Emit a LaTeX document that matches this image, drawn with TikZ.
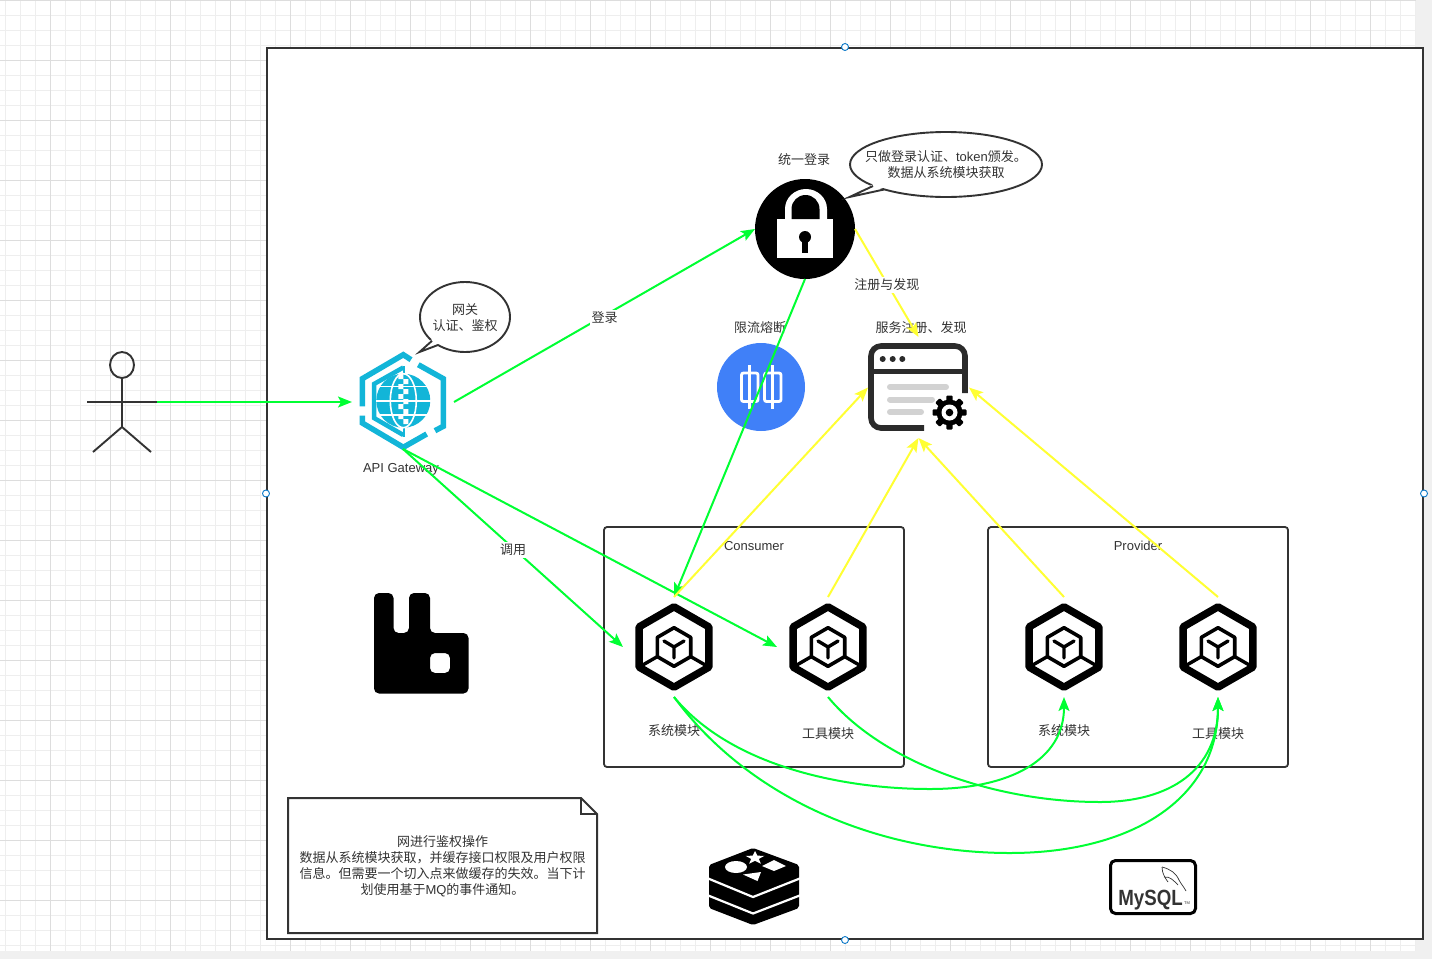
\documentclass[tikz,border=0pt]{standalone}
\usepackage{fontspec}
\setmainfont{Liberation Sans}
\newfontfamily\cjk{Noto Sans CJK SC}
\newfontfamily\lat{Liberation Sans}
\usetikzlibrary{arrows.meta,shapes.geometric}
\definecolor{ink}{HTML}{333333}
\definecolor{gridminor}{HTML}{EEEEEE}
\definecolor{gridmajor}{HTML}{DDDDDD}
\definecolor{pagebg}{HTML}{F0F0F0}
\definecolor{grn}{HTML}{00FF33}
\definecolor{ylw}{HTML}{FFFF33}
\definecolor{cyanicon}{HTML}{12B5D8}
\definecolor{blueicon}{HTML}{4080F8}
\definecolor{handle}{HTML}{0A78C8}
\definecolor{barg}{HTML}{D2D2D2}
\tikzset{
  txt/.style={text=ink,inner sep=0pt,font=\cjk\fontsize{13}{16}\selectfont,align=center},
  anchorbox/.style={inner sep=0pt,outer sep=0pt,minimum width=#1},
  modbox/.style={inner sep=0pt,outer sep=0pt,minimum width=102pt,minimum height=100pt},
  frame/.style={draw=ink,line width=2pt,line join=miter},
  gline/.style={draw=grn,line width=2pt,-{Stealth[length=14pt,width=11pt,inset=3pt]}},
  yline/.style={draw=ylw,line width=2pt,-{Stealth[length=14pt,width=11pt,inset=3pt]}},
  lbl/.style={txt,fill=white,inner xsep=1.5pt,inner ysep=2pt,yshift=-2pt},
  hnd/.style={circle,draw=handle,fill=white,line width=0.9pt,minimum size=7pt,inner sep=0pt},
  modpic/.pic={
    \draw[black,line width=7.4pt,line join=round]
      (0,-40.2)--(34.9,-20.1)--(34.9,20.1)--(0,40.2)--(-34.9,20.1)--(-34.9,-20.1)--cycle;
    \draw[black,line width=3.6pt,line join=round]
      (0,-19.3)--(16.7,-9.6)--(16.7,9.6)--(0,19.3)--(-16.7,9.6)--(-16.7,-9.6)--cycle;
    \draw[black,line width=3.4pt] (-16.7,9.6)--(-34.9,20.1) (16.7,9.6)--(34.9,20.1);
    \draw[black,line width=3.4pt,line cap=round] (0,0)--(-10,-6) (0,0)--(10,-6) (0,0)--(0,11);
  }
}
\begin{document}
\begin{tikzpicture}[x=1pt,y=-1pt]
\useasboundingbox (0,0) rectangle (1432,959);
\fill[pagebg] (0,0) rectangle (1432,959);
\fill[white] (0,0) rectangle (1415.5,951);
% grid
\foreach \k in {0,...,94} {\pgfmathsetmacro{\xx}{5+15*\k}\draw[gridminor,line width=1pt] (\xx,0)--(\xx,951);}
\foreach \k in {0,...,63} {\pgfmathsetmacro{\yy}{15*\k}\draw[gridminor,line width=1pt] (0,\yy)--(1415.5,\yy);}
\foreach \k in {0,...,22} {\pgfmathsetmacro{\xx}{50+60*\k}\draw[gridmajor,line width=1pt] (\xx,0)--(\xx,951);}
\foreach \k in {0,...,15} {\pgfmathsetmacro{\yy}{60*\k}\draw[gridmajor,line width=1pt] (0,\yy)--(1415.5,\yy);}
% main frame
\node[frame,fill=white,inner sep=0pt,minimum width=1156pt,minimum height=891pt] (main) at (845,493.5) {};
% boxes
\node[draw=ink,line width=1.8pt,rounded corners=3pt,minimum width=300pt,minimum height=240pt,inner sep=0pt] (consumer) at (754,647) {};
\node[draw=ink,line width=1.8pt,rounded corners=3pt,minimum width=300pt,minimum height=240pt,inner sep=0pt] (provider) at (1138,647) {};
% note
\draw[frame] (288,798)--(581,798)--(597,814)--(597,933)--(288,933)--cycle;
\draw[frame] (581,798)--(581,814)--(597,814);
\node[txt,text width=290pt] (notetext) at (442.5,866.5) {网进行鉴权操作\\数据从系统模块获取，并缓存接口权限及用户权限\\信息。但需要一个切入点来做缓存的失效。当下计\\划使用基于{\lat MQ}的事件通知。};
% user
\node[anchorbox=70pt,minimum height=102pt] (user) at (122,402) {};
\draw[ink,line width=1.9pt] (122,365) ellipse [x radius=12,y radius=13];
\draw[ink,line width=1.9pt] (87,402)--(157,402) (122,378)--(122,427) (93,452)--(122,427)--(151,452);
% gateway icon
\node[anchorbox=102pt,minimum height=94pt] (gw) at (403,402) {};
\begin{scope}[cyanicon]
\draw[line width=5.5pt,line join=miter] (362.3,406.3)--(362.3,378.7)--(403.3,354.7)--(411,359.7);
\draw[line width=5.5pt,line join=miter] (418.3,364.7)--(443.3,378.7)--(443.3,426.3)--(435,430.7);
\draw[line width=5.5pt,line join=miter] (426.7,434)--(403.3,447.3)--(362.3,423)--(362.3,415.7);
\draw[line width=4.5pt,line join=miter] (403.3,367.5)--(374,384)--(374,418)--(403.3,435);
\fill (403.3,365.5) rectangle (404.5,437);
\fill (403.3,400.7) circle [radius=27];
\draw[white,line width=1.6pt] (403.3,400.7) ellipse [x radius=13,y radius=27];
\draw[white,line width=1.6pt] (376,400.7)--(431,400.7) (380,386.5)--(427,386.5) (380,415)--(427,415);
\fill[white] (398.3,374) rectangle (403.3,379) (403.3,379) rectangle (408.3,384)
  (398.3,384) rectangle (403.3,389) (403.3,389) rectangle (408.3,394)
  (398.3,394) rectangle (403.3,399) (403.3,399) rectangle (408.3,404)
  (398.3,404) rectangle (403.3,409) (403.3,409) rectangle (408.3,414)
  (398.3,414) rectangle (403.3,419) (403.3,419) rectangle (408.3,424);
\end{scope}
\node[txt] (gwlabel) at (401,469.5) {\lat API Gateway};
% gateway bubble
\draw[ink,line width=1.9pt,fill=white] (465,317) ellipse [x radius=45,y radius=35];
\fill[white] (419.5,352)--(432.5,338.5)--(439.5,343.5)--cycle;
\draw[ink,line width=1.9pt,line join=miter] (432,340.8)--(419.5,352)--(438,345);
\node[txt] (gwbubble) at (465,317.5) {网关\\认证、鉴权};
% lock
\node[circle,fill=black,minimum size=100pt,inner sep=0pt,outer sep=0pt] (lock) at (805,229) {};
\fill[white] (777,219) rectangle (833,258);
\fill[white] (785,221) -- (785,209) arc [start angle=180,end angle=360,x radius=21,y radius=20] -- (827,221) -- cycle;
\fill[black] (791.5,219) -- (791.5,209) arc [start angle=180,end angle=360,x radius=14,y radius=14] -- (819.5,219) -- cycle;
\fill[black] (805,237) circle [radius=6];
\fill[black] (802,238) rectangle (808,252.5);
\node[txt] (locklabel) at (804,160) {统一登录};
% lock bubble
\draw[ink,line width=1.9pt,fill=white] (946,164.5) ellipse [x radius=96,y radius=32.5];
\fill[white] (849.5,197)--(873.5,184)--(885,187.5)--cycle;
\draw[ink,line width=1.9pt,line join=miter] (873,186)--(849.5,197)--(884,189.5);
\node[txt] (lockbubble) at (946,165) {只做登录认证、{\lat token}颁发。\\数据从系统模块获取};
% breaker
\node[circle,fill=blueicon,minimum size=88pt,inner sep=0pt,outer sep=0pt] (breaker) at (761,387) {};
\draw[white,line width=2.8pt,rounded corners=2pt] (741.5,373) rectangle (758,401.5) (764.5,373) rectangle (781,401.5);
\draw[white,line width=3.2pt] (749.5,365)--(749.5,409) (772.5,365)--(772.5,409);
\node[txt] (breakerlabel) at (760,328) {限流熔断};
% registry
\node[anchorbox=101pt,minimum height=101pt] (reg) at (918.5,387.5) {};
\draw[ink!85!black,line width=5.6pt,line join=round] (965,393)--(965,356) arc [start angle=0,end angle=-90,radius=10] -- (881,346) arc [start angle=-90,end angle=-180,radius=10] -- (871,418) arc [start angle=180,end angle=90,radius=10] -- (924,428);
\draw[ink!85!black,line width=5pt] (871,371)--(965,371);
\fill[ink!85!black] (882.7,359) circle [radius=3] (892.7,359) circle [radius=3] (902.3,359) circle [radius=3];
\draw[barg,line width=6pt,line cap=round] (890,387)--(946,387) (890,399.5)--(932,399.5) (890,412)--(921,412);
\fill[black] (949.5,412.5) circle [radius=13];
\foreach \a in {0,45,...,315} {\fill[black,rotate around={\a:(949.5,412.5)},rounded corners=1pt] (946.3,395.5) rectangle (952.7,405);}
\fill[white] (949.5,412.5) circle [radius=8];
\fill[black] (949.5,412.5) circle [radius=3.8];
\node[txt] (reglabel) at (921,328) {服务注册、发现};
% modules
\node[modbox] (sysa) at (674,647) {};
\node[modbox] (toola) at (828,647) {};
\node[modbox] (sysb) at (1064,647) {};
\node[modbox] (toolb) at (1218,647) {};
\pic at (sysa.center) {modpic};
\pic at (toola.center) {modpic};
\pic at (sysb.center) {modpic};
\pic at (toolb.center) {modpic};
\node[txt] (consumerlabel) at (754,546) {\lat Consumer};
\node[txt] (providerlabel) at (1138,546) {\lat Provider};
\node[txt] (sysalabel) at (674,731) {系统模块};
\node[txt] (toolalabel) at (828,734) {工具模块};
\node[txt] (sysblabel) at (1064,731) {系统模块};
\node[txt] (toolblabel) at (1218,734) {工具模块};
% rabbit
\fill[black,rounded corners=5pt,even odd rule] (374,693.5)--(374,593)--(393.5,593)--(393.5,633)--(409,633)--(409,593)--(430,593)--(430,633)--(468.5,633)--(468.5,693.5)--cycle
  (430,653)--(450,653)--(450,673)--(430,673)--cycle;
% redis
\fill[black,rounded corners=2pt] (753,848)--(799,865)--(799,908)--(753,925)--(709,908)--(709,865)--cycle;
\draw[white,line width=2.2pt] (707,878)--(753,897)--(801,878) (707,895)--(753,913.5)--(801,895);
\fill[white] (736,867) ellipse [x radius=11,y radius=6];
\fill[white] (755,851)--(757.35,855.7)--(764.5,855.8)--(758.8,858.9)--(760.9,863.7)--(755,860.8)--(749.1,863.7)--(751.2,858.9)--(745.5,855.8)--(752.65,855.7)--cycle;
\fill[white] (774,860)--(786,866)--(774,871)--(762,866)--cycle;
\fill[white] (743,874.5)--(761,872)--(757.5,881)--cycle;
% mysql
\draw[black,line width=3pt,rounded corners=5pt] (1110.5,860.5) rectangle (1195.5,913.5);
\node[anchor=base,inner sep=0pt,font=\lat\bfseries\fontsize{22}{22}\selectfont,text=ink] (mysql) at (1150.5,905) {\scalebox{0.85}[1]{MySQL}};
\node[inner sep=0pt,font=\lat\fontsize{4}{4}\selectfont,text=ink] (mysqltm) at (1187,903) {TM};
\draw[ink,line width=0.7pt] (1162,867) .. controls (1170,869) and (1176,873) .. (1179,880) .. controls (1181,884) and (1184,887) .. (1186,891);
\draw[ink,line width=0.7pt] (1162,867) .. controls (1162,873) and (1165,878) .. (1168,882) (1164,877) .. controls (1170,876) and (1174,881) .. (1178,885);
% connectors
\draw[gline] (user.east) -- (gw.west);
\draw[gline] (gw.east) -- node[lbl] (loginlabel) {登录} (lock.west);
\draw[gline] (gw.south) -- node[lbl] (calllabel) {调用} (sysa.west);
\draw[gline] (gw.south) -- (toola.west);
\draw[gline] (lock.south) -- (sysa.north);
\draw[yline] (lock.east) -- node[lbl] (reglinelabel) {注册与发现} (reg.north);
\draw[yline] (sysa.north) -- (reg.west);
\draw[yline] (toola.north) -- (reg.south);
\draw[yline] (sysb.north) -- (reg.south);
\draw[yline] (toolb.north) -- (reg.east);
\draw[gline] (sysa.south) .. controls (730,765) and (840,789) .. (930,789) .. controls (1010,789) and (1064,760) .. (sysb.south);
\draw[gline] (sysa.south) .. controls (750,800) and (880,853) .. (1010,853) .. controls (1130,853) and (1218,800) .. (toolb.south);
\draw[gline] (toola.south) .. controls (880,760) and (990,802) .. (1100,802) .. controls (1170,802) and (1218,770) .. (toolb.south);
% selection handles
\node[hnd] (hn) at (main.north) {};
\node[hnd] (hs) at (main.south) {};
\node[hnd] (hw) at (main.west) {};
\node[hnd] (he) at (main.east) {};
\end{tikzpicture}
\end{document}
